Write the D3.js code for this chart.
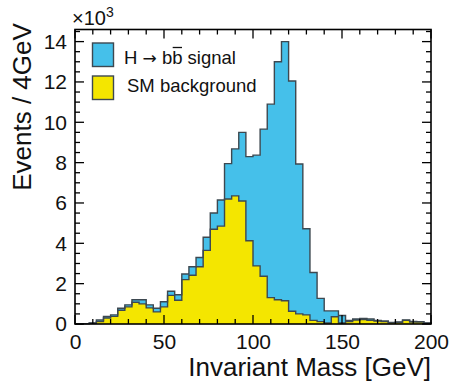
<!DOCTYPE html>
<html><head><meta charset="utf-8">
<script src="https://cdn.jsdelivr.net/npm/d3@7"></script>
<style>
html,body{margin:0;padding:0;background:#fff;}
svg{display:block;font-family:"Liberation Sans",Arial,Helvetica,sans-serif;}
</style></head><body>
<svg id="chart" width="450" height="385"></svg>
<script>
// ---- data (events per 4 GeV bin, in units of 10^3) ----
const binStarts = [0,4,8,12,16,20,24,28,32,36,40,44,48,52,56,60,64,68,72,76,80,84,88,92,96,
                   100,104,108,112,116,120,124,128,132,136,140,144,148,152,156,160,164,168,172,176,180,184,188,192,196];
const binWidth = 4;
const background = [0,0.02,0.04,0.12,0.30,0.38,0.68,0.85,1.08,1.00,0.80,0.60,0.85,1.42,1.18,2.20,2.42,2.84,3.65,4.70,
                    4.85,6.20,6.35,6.10,4.13,2.88,2.37,1.31,1.20,1.15,0.63,0.50,0.45,0.18,0.12,0.05,0.36,0.05,0.12,0.20,
                    0.22,0.18,0.15,0.12,0.06,0.08,0.18,0.10,0.10,0.04];
const signal = [0,0,0.01,0.08,0.07,0.07,0.10,0.10,0.12,0.20,0.15,0.18,0.25,0.20,0.27,0.28,0.42,0.46,0.65,0.80,
                1.30,1.75,2.33,3.40,4.17,5.49,7.29,9.59,11.80,12.85,11.42,7.43,4.27,2.37,1.15,0.60,0.29,0.37,0.06,0.05,
                0.05,0.07,0.03,0.03,0.02,0.02,0.02,0.03,0.02,0.01];
const xTicks = [0,50,100,150,200];
const yTicks = [0,2,4,6,8,10,12,14];
const seriesNames = ["SM background","H \u2192 bb signal"];
const colors = {background:"#f4e600", signal:"#45c0ea"};
const outline = "#3d4850";

// ---- layout ----
const svg = d3.select("#chart");
const L = 75, R = 431, T = 29.5, B = 324;
const x = d3.scaleLinear().domain([0,200]).range([L,R]);
const y = d3.scaleLinear().domain([0,14.6]).range([B,T]);

const rows = binStarts.map((s,i)=>({start:s, background:background[i], signal:signal[i]}));
const stack = d3.stack().keys(["background","signal"]);
const layers = stack(rows);

function stepPoints(layer){
  const pts = [];
  layer.forEach(d=>{
    pts.push({x:d.data.start, y0:d[0], y1:d[1]});
    pts.push({x:d.data.start+binWidth, y0:d[0], y1:d[1]});
  });
  return pts;
}
const area = d3.area().x(d=>x(d.x)).y0(d=>y(d.y0)).y1(d=>y(d.y1));
const line = d3.line().x(d=>x(d.x)).y(d=>y(d.y1));

const g = svg.append("g");
layers.forEach(layer=>{
  g.append("path").attr("d", area(stepPoints(layer)))
    .attr("fill", colors[layer.key]).attr("stroke","none");
});
layers.forEach(layer=>{
  const pts = stepPoints(layer);
  const full = [{x:pts[0].x,y1:0}].concat(pts).concat([{x:pts[pts.length-1].x,y1:0}]);
  g.append("path").attr("d", line(full))
    .attr("fill","none").attr("stroke",outline).attr("stroke-width",1.4);
});

// ---- frame and ticks ----
const ax = svg.append("g");
const majorLen = 9, minorLen = 5;
const xMinor = d3.range(0,201,10);
const yMinor = d3.range(0,14.6,0.5);
xMinor.forEach(v=>{
  const len = xTicks.includes(v) ? majorLen : minorLen;
  ax.append("line").attr("x1",x(v)).attr("x2",x(v)).attr("y1",B).attr("y2",B-len).attr("stroke","#000").attr("stroke-width",1.3);
  ax.append("line").attr("x1",x(v)).attr("x2",x(v)).attr("y1",T).attr("y2",T+len).attr("stroke","#000").attr("stroke-width",1.3);
});
yMinor.forEach(v=>{
  const len = yTicks.includes(v) ? majorLen : minorLen;
  ax.append("line").attr("x1",L).attr("x2",L+len).attr("y1",y(v)).attr("y2",y(v)).attr("stroke","#000").attr("stroke-width",1.3);
  ax.append("line").attr("x1",R).attr("x2",R-len).attr("y1",y(v)).attr("y2",y(v)).attr("stroke","#000").attr("stroke-width",1.3);
});
ax.append("rect").attr("x",L).attr("y",T).attr("width",R-L).attr("height",B-T)
  .attr("fill","none").attr("stroke","#000").attr("stroke-width",1.6);

// tick labels via d3 axes (lines hidden)
const xAxis = svg.append("g").attr("transform",`translate(0,${B})`)
  .call(d3.axisBottom(x).tickValues(xTicks).tickSize(0).tickPadding(10));
xAxis.select(".domain").remove();
xAxis.selectAll("text").attr("font-size",21).attr("fill","#111").attr("font-family",null);
const yAxis = svg.append("g").attr("transform",`translate(${L},0)`)
  .call(d3.axisLeft(y).tickValues(yTicks).tickSize(0).tickPadding(8));
yAxis.select(".domain").remove();
yAxis.selectAll("text").attr("font-size",21).attr("fill","#111").attr("font-family",null);

// axis titles
svg.append("text").attr("x",R).attr("y",376).attr("text-anchor","end")
  .attr("font-size",26).attr("fill","#111").text("Invariant Mass [GeV]");
svg.append("text").attr("transform","translate(31,107) rotate(-90)").attr("text-anchor","middle")
  .attr("font-size",26).attr("fill","#111").text("Events / 4GeV");

// exponent
const ex = svg.append("text").attr("x",72).attr("y",25).attr("font-size",20).attr("fill","#111");
ex.append("tspan").text("\u00d710");
ex.append("tspan").attr("dy",-8).attr("font-size",14).text("3");

// ---- legend ----
const leg = [
  {key:"signal", label:seriesNames[1], y:43},
  {key:"background", label:seriesNames[0], y:76}
];
leg.forEach(l=>{
  svg.append("rect").attr("x",92.5).attr("y",l.y).attr("width",21).attr("height",23.5)
    .attr("fill",colors[l.key]).attr("stroke",outline).attr("stroke-width",1.4);
});
const t1 = svg.append("text").attr("x",124).attr("y",64).attr("font-size",18.5).attr("fill","#111");
t1.append("tspan").text("H ");
t1.append("tspan").attr("font-family","'DejaVu Sans'").attr("font-size",17).text("\u2192");
t1.append("tspan").text(" b");
t1.append("tspan").text("b");
t1.append("tspan").text(" signal");
// overline on the anti-b
const node = t1.node();
const idx = "H \u2192 b".length;
const sp = node.getStartPositionOfChar(idx), ep = node.getEndPositionOfChar(idx);
svg.append("line").attr("x1",sp.x+0.5).attr("x2",ep.x-0.5).attr("y1",47.5).attr("y2",47.5)
  .attr("stroke","#111").attr("stroke-width",1.3);
svg.append("text").attr("x",127).attr("y",92).attr("font-size",18.5).attr("fill","#111").text(seriesNames[0]);
</script>
</body></html>
